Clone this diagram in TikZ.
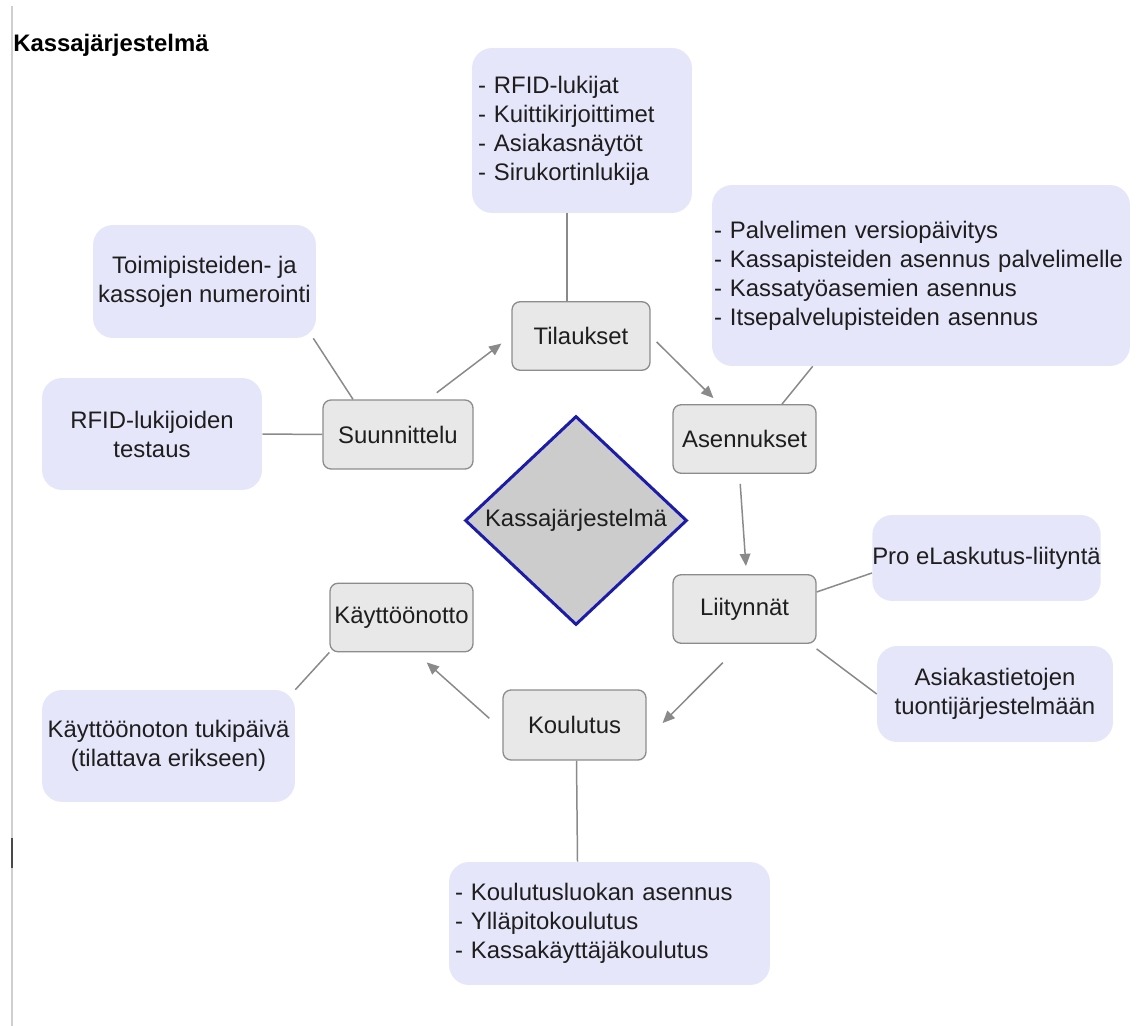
\documentclass[tikz,border=0pt]{standalone}
\usepackage{fontspec}
\setmainfont{Liberation Sans}
\usetikzlibrary{shapes.geometric,arrows.meta,calc}
\definecolor{boxgray}{HTML}{E8E8E8}
\definecolor{edgegray}{HTML}{8C8C8C}
\definecolor{linegray}{HTML}{8A8A8A}
\definecolor{notefill}{HTML}{E6E6FA}
\definecolor{diamondblue}{HTML}{1C1CA8}
\definecolor{diamondfill}{HTML}{CCCCCC}
\definecolor{textblack}{HTML}{1E1E1E}
\definecolor{margingray}{HTML}{CFCFCF}
\definecolor{markgray}{HTML}{4A4A4A}

\tikzset{
  phase/.style={draw=edgegray, fill=boxgray, line width=0.75pt, rounded corners=0.16cm,
    minimum width=2.86cm, minimum height=1.37cm, inner sep=0pt,
    font=\fontsize{13.6}{16.5}\selectfont, text=textblack},
  note/.style={fill=notefill, rounded corners=0.4cm, inner sep=0pt, align=center,
    font=\fontsize{13.6}{16.5}\selectfont, text=textblack},
  listnote/.style={note, align=left, inner xsep=0.12cm},
  link/.style={draw=linegray, line width=0.85pt},
  flow/.style={link, -{Triangle[length=7pt,width=6pt]}, fill=linegray}
}

\begin{document}
\begin{tikzpicture}[x=0.02cm, y=-0.02cm]
\useasboundingbox (0,0) rectangle (1138,1026);

\draw[draw=margingray, line width=1.1pt] (12,6) -- (12,1026);
\draw[draw=markgray, line width=1.1pt] (12,838) -- (12,868);
\node[anchor=base west, inner sep=0pt, font=\fontsize{13.6}{16.5}\selectfont\bfseries] (title) at (13,52) {Kassajärjestelmä};

\node[diamond, draw=diamondblue, fill=diamondfill, line width=1.7pt, minimum width=4.44cm, minimum height=4.18cm,
  inner sep=0pt, font=\fontsize{13.6}{16.5}\selectfont, text=textblack] (kassa) at (576,520.5) {Kassajärjestelmä};

\node[phase, minimum width=2.76cm] (tilaukset) at (581,336) {Tilaukset};
\node[phase, minimum width=3cm, minimum height=1.38cm] (suunnittelu) at (398,434.5) {Suunnittelu};
\node[phase] (asennukset) at (744.5,439) {Asennukset};
\node[phase] (liitynnat) at (744.5,609) {Liitynnät};
\node[phase, minimum height=1.4cm] (koulutus) at (574.5,725) {Koulutus};
\node[phase] (kayttoonotto) at (401.5,617.5) {Käyttöönotto};

\node[listnote, text width=4.16cm, minimum height=3.3cm] (tilausbox) at (582,130.5)
  {- RFID-lukijat\\- Kuittikirjoittimet\\- Asiakasnäytöt\\- Sirukortinlukija};
\node[listnote, inner xsep=0.04cm, text width=8.28cm, minimum height=3.62cm] (asennusbox) at (921,275.5)
  {- Palvelimen versiopäivitys\\- Kassapisteiden asennus palvelimelle\\- Kassatyöasemien asennus\\- Itsepalvelupisteiden asennus};
\node[note, minimum width=4.46cm, minimum height=2.26cm] (toimipiste) at (204.5,281.5) {Toimipisteiden- ja\\kassojen numerointi};
\node[note, minimum width=4.4cm, minimum height=2.24cm] (rfidtest) at (152,434) {RFID-lukijoiden\\testaus};
\node[note, minimum width=4.46cm, minimum height=1.72cm] (elasku) at (986.5,558) {Pro eLaskutus-liityntä};
\node[note, minimum width=4.72cm, minimum height=1.92cm] (asiakas) at (995,694) {Asiakastietojen\\tuontijärjestelmään};
\node[note, minimum width=5.06cm, minimum height=2.24cm] (tukipaiva) at (168.5,746) {Käyttöönoton tukipäivä\\(tilattava erikseen)};
\node[listnote, text width=6.18cm, minimum height=2.46cm] (koulutusbox) at (609.5,923.5)
  {- Koulutusluokan asennus\\- Ylläpitokoulutus\\- Kassakäyttäjäkoulutus};

\draw[flow, shorten <=0.22cm, shorten >=0.25cm] ($(suunnittelu.north)+(30,0)$) -- (tilaukset.west);
\draw[flow, shorten <=0.17cm, shorten >=0.17cm] (tilaukset.east) -- ($(asennukset.north)+(-25,0)$);
\draw[flow, shorten <=0.2cm, shorten >=0.16cm] ($(asennukset.south)+(-5,0)$) -- ($(liitynnat.north)+(2,0)$);
\draw[flow, shorten <=0.53cm, shorten >=0.45cm] ($(liitynnat.south)+(-3,0)$) -- ($(koulutus.east)+(0,14)$);
\draw[flow, shorten <=0.35cm, shorten >=0.3cm] ($(koulutus.west)+(0,5)$) -- ($(kayttoonotto.south)+(14,0)$);

\draw[link] ($(tilausbox.south)+(-15,0)$) -- ($(tilaukset.north)+(-14,0)$);
\draw[link] ($(toimipiste.south east)+(-3,0)$) -- ($(suunnittelu.north)+(-45,0)$);
\draw[link] (rfidtest.east) -- (suunnittelu.west);
\draw[link] ($(asennukset.north)+(37.5,0)$) -- ($(asennusbox.south west)+(101,0)$);
\draw[link] ($(liitynnat.east)+(0,-17)$) -- ($(elasku.west)+(0,15)$);
\draw[link] ($(liitynnat.south east)+(0,5)$) -- (asiakas.west);
\draw[link] (kayttoonotto.south west) -- (tukipaiva.north east);
\draw[link] ($(koulutus.south)+(2,0)$) -- ($(koulutusbox.north)+(-32,0)$);
\end{tikzpicture}
\end{document}
